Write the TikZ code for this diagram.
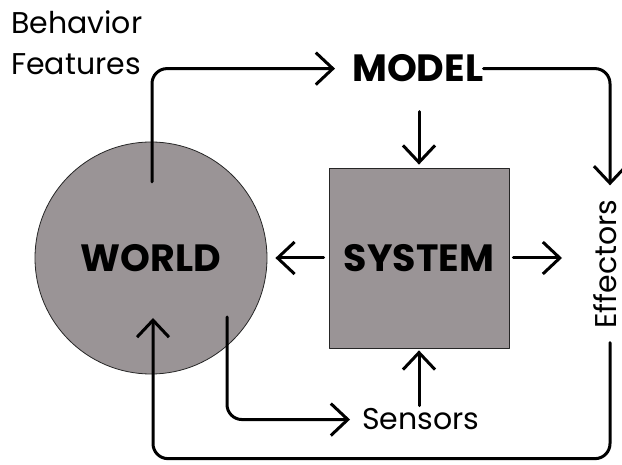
\documentclass[tikz,border=0pt]{standalone}
\usepackage{fontspec}
\setmainfont{Poppins}
\usetikzlibrary{arrows.meta}
\definecolor{blobgray}{RGB}{154,148,150}
\tikzset{
  blob/.style={fill=blobgray,draw=black!85,line width=0.8pt,font=\fontsize{38}{38}\selectfont\bfseries},
  lbl/.style={inner sep=0pt,font=\fontsize{30}{30}\selectfont},
  flow/.style={->,line width=3pt,rounded corners=15pt}
}
\begin{document}
\begin{tikzpicture}[line cap=round,line join=round,>={Straight Barb[length=17pt,width=32pt]},x=1pt,y=-1pt]
\useasboundingbox (0,0) rectangle (622,465);
\node [blob,circle,minimum size=232pt] (world) at (151,258) {WORLD};
\node [blob,minimum size=180pt] (system) at (419,258) {SYSTEM};
\node [lbl,anchor=base west,font=\fontsize{38}{38}\selectfont\bfseries] (model) at (352,82) {MODEL};
\node [lbl,anchor=north west,align=left,font=\fontsize{30}{41}\selectfont] (features) at (11,10) {Behavior\\Features};
\node [lbl,anchor=base west] (sensors) at (362,430) {Sensors};
\node [lbl,rotate=90,inner xsep=14pt] (effectors) at (605,264) {Effectors};
\coordinate (wup) at (152,182);
\coordinate (wdown) at (227,317);
\coordinate (wback) at (153,318);
\coordinate (act) at (562,258);
\draw [flow,shorten >=17pt] (wup) |- (model.west);
\draw [flow] (model.east) -| ([xshift=5pt]effectors.east);
\draw [flow] ([xshift=5pt]effectors.west) -- ++(0,116) -| (wback);
\draw [flow,shorten >=12pt] (wdown) |- (sensors.west);
\draw [flow] ([yshift=56pt]system.north) -- ([yshift=3pt]system.north);
\draw [flow,shorten <=3pt,shorten >=2pt] (sensors.north -| system.south) -- (system.south);
\draw [flow,shorten <=5pt,shorten >=8pt] (system.west) -- (world.east);
\draw [flow,shorten <=4pt] (system.east) -- (act);
\end{tikzpicture}
\end{document}
